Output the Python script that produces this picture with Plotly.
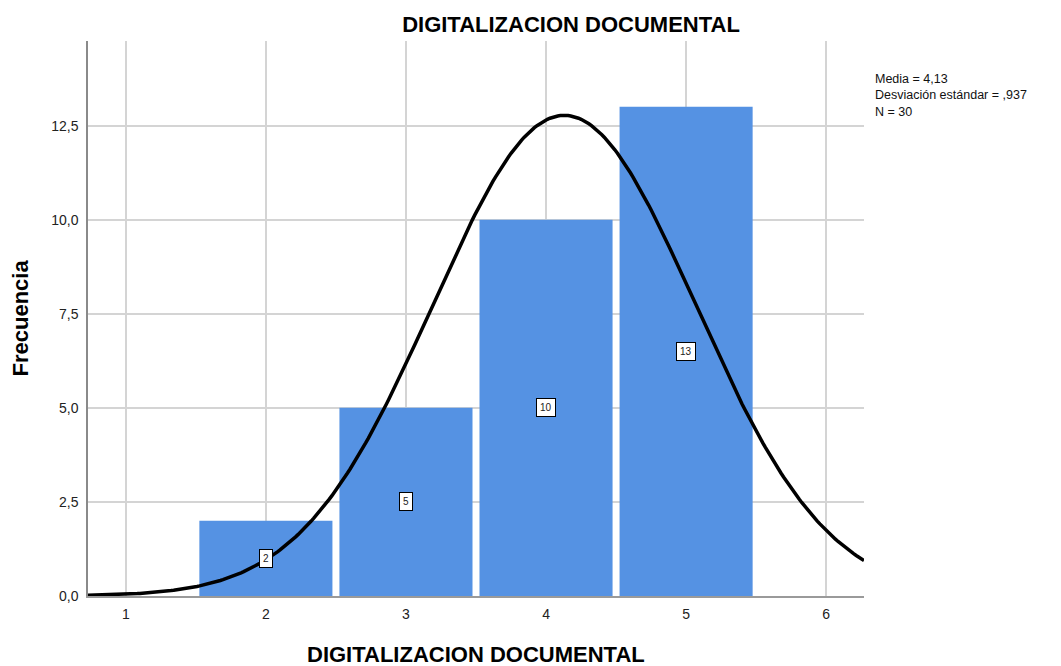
import numpy as np
import plotly.graph_objects as go

categories = [2, 3, 4, 5]
frequencies = [2, 5, 10, 13]
media = 4.13
desv = 0.937
n_total = 30
x_ticks = [1, 2, 3, 4, 5, 6]
y_ticks = [0, 2.5, 5, 7.5, 10, 12.5]
stats_lines = ["Media = 4,13", "Desviación estándar = ,937", "N = 30"]
x_title = "DIGITALIZACION DOCUMENTAL"
y_title = "Frecuencia"

FONT = "Liberation Sans, Arial, sans-serif"
x_min, x_max = 0.73, 6.27
y_min, y_max = 0, 14.75

xs = np.linspace(x_min, x_max, 300)
ys = n_total * 1.0 / (desv * np.sqrt(2 * np.pi)) * np.exp(-0.5 * ((xs - media) / desv) ** 2)

# page body has an 8px margin; compensate so the plot sits where the reference does
OFF = 8
W, H = 1061 - 2 * OFF, 666 - OFF
L, T = 88 - OFF, 41 - OFF
PW, PH = 776, 555
R, B = W - L - PW, H - T - PH

fig = go.Figure()
fig.add_trace(go.Bar(x=categories, y=frequencies, width=0.95,
                     marker=dict(color="#5592e3", line=dict(width=0)),
                     hoverinfo="skip"))
fig.add_trace(go.Scatter(x=xs, y=ys, mode="lines",
                         line=dict(color="black", width=3.5), hoverinfo="skip"))

for c, f in zip(categories, frequencies):
    fig.add_annotation(x=c, y=f / 2, text=str(f), showarrow=False,
                       font=dict(family=FONT, size=10, color="#222"),
                       bgcolor="white", bordercolor="black", borderwidth=1,
                       borderpad=3)

fig.add_annotation(x=1.0, xref="paper", y=1 - (70 - 41) / PH, yref="paper",
                   xshift=9, text="<br>".join(stats_lines), showarrow=False,
                   xanchor="left", yanchor="top", align="left",
                   font=dict(family=FONT, size=12.5, color="#111"))

# axis titles
fig.add_annotation(x=0.5, xref="paper", y=0, yref="paper", yshift=-(654 - 596),
                   text="<b>" + x_title + "</b>", showarrow=False,
                   xanchor="center", yanchor="middle",
                   font=dict(family=FONT, size=22, color="black"))
fig.add_annotation(x=0, xref="paper", y=0.5, yref="paper", xshift=-(88 - 20),
                   text="<b>" + y_title + "</b>", showarrow=False, textangle=-90,
                   xanchor="center", yanchor="middle",
                   font=dict(family=FONT, size=22, color="black"))

fig.update_layout(
    width=W, height=H,
    margin=dict(l=L, r=R, t=T, b=B, autoexpand=False),
    paper_bgcolor="white", plot_bgcolor="white",
    showlegend=False,
    separators=",.",
    title=dict(text="<b>DIGITALIZACION DOCUMENTAL</b>", x=(571 - OFF) / W, xanchor="center",
               y=1 - (24 - OFF) / H, yanchor="middle",
               font=dict(family=FONT, size=22, color="black")),
    xaxis=dict(range=[x_min, x_max], tickvals=x_ticks, ticks="", showgrid=True,
               gridcolor="#d4d4d4", gridwidth=1.5, showline=True, linecolor="#9a9a9a",
               linewidth=1.5, zeroline=False, automargin=False, ticklabelstandoff=4,
               tickfont=dict(family=FONT, size=14, color="#222")),
    yaxis=dict(range=[y_min, y_max], tickvals=y_ticks, tickformat=".1f", ticks="",
               showgrid=True, gridcolor="#d4d4d4", gridwidth=1.5, showline=True,
               linecolor="#8a8a8a", linewidth=1.5, zeroline=False, automargin=False,
               ticklabelstandoff=5,
               tickfont=dict(family=FONT, size=14, color="#222")),
)

fig.write_html("out.html")
